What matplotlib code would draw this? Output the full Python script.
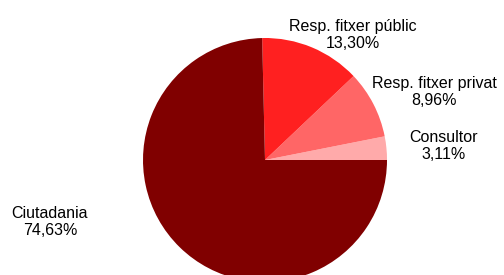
import matplotlib
matplotlib.use("Agg")
import matplotlib.pyplot as plt

# ── dades ──
categories = ["Consultor", "Resp. fitxer privat", "Resp. fitxer públic", "Ciutadania"]
values = [3.11, 8.96, 13.30, 74.63]
value_labels = ["3,11%", "8,96%", "13,30%", "74,63%"]
colors = ["#FFAAAA", "#FF6666", "#FF2020", "#800000"]

plt.rcParams["font.family"] = ["Liberation Sans", "DejaVu Sans"]

W, H = 504, 275
fig = plt.figure(figsize=(W / 100, H / 100), dpi=100)
ax = fig.add_axes([0, 0, 1, 1])

# pie en coordenades de píxel (y invertida)
cx, cy, r = 265, H - 160, 122
ax.pie(values, colors=colors, startangle=0, counterclock=True,
       center=(cx, cy), radius=r, wedgeprops=dict(linewidth=0))

ax.set_xlim(0, W)
ax.set_ylim(0, H)
ax.set_aspect("auto")
ax.axis("off")

# posicions de les etiquetes (píxels)
label_pos = [(444, 146), (434, 92), (353, 35), (50, 222)]
for name, lab, (x, y) in zip(categories, value_labels, label_pos):
    ax.text(x, H - y, f"{name}\n{lab}", ha="center", va="center",
            fontsize=11.5, linespacing=1.15, color="black")

fig.savefig("out.png", dpi=100)
